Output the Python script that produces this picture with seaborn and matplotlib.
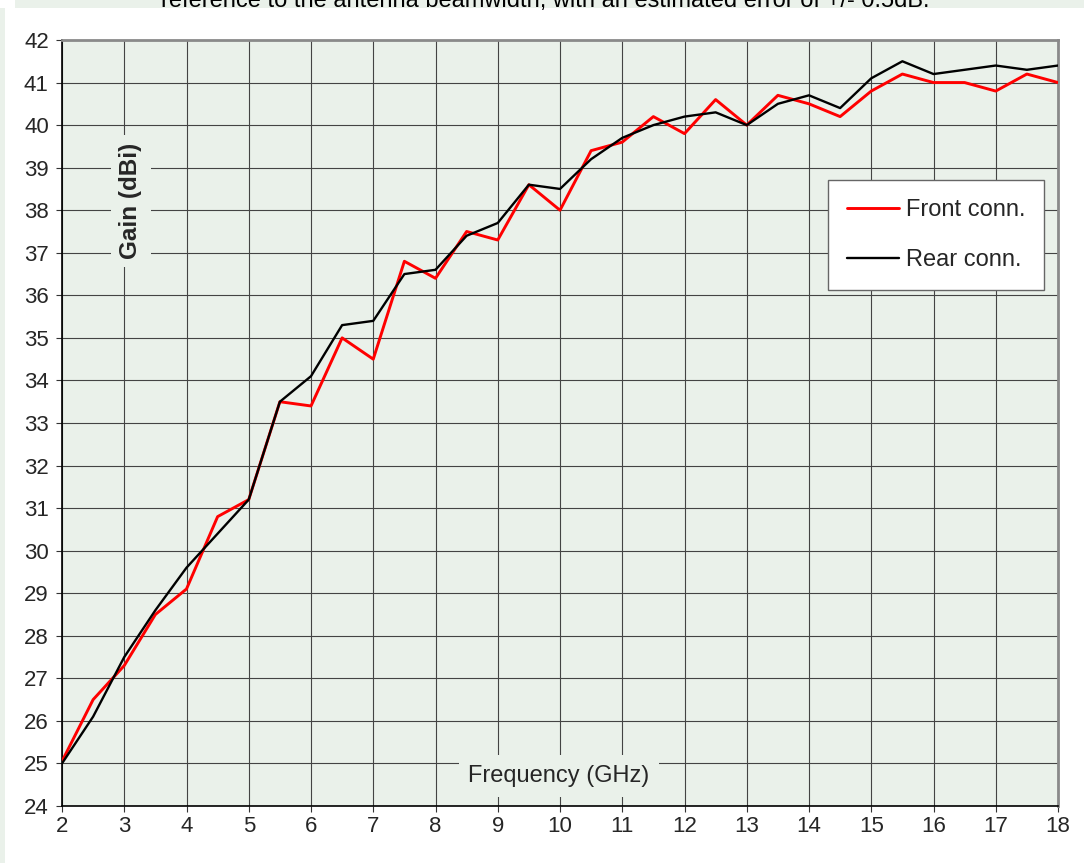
import numpy as np
import pandas as pd
import matplotlib
matplotlib.use("Agg")
import matplotlib.pyplot as plt
import seaborn as sns
from matplotlib.patches import Rectangle

freq = [2, 2.5, 3, 3.5, 4, 4.5, 5, 5.5, 6, 6.5, 7, 7.5, 8, 8.5, 9, 9.5, 10,
        10.5, 11, 11.5, 12, 12.5, 13, 13.5, 14, 14.5, 15, 15.5, 16, 16.5, 17, 17.5, 18]
front = [25.05, 26.5, 27.3, 28.5, 29.1, 30.8, 31.2, 33.5, 33.4, 35.0, 34.5, 36.8, 36.4,
         37.5, 37.3, 38.6, 38.0, 39.4, 39.6, 40.2, 39.8, 40.6, 40.0, 40.7, 40.5, 40.2,
         40.8, 41.2, 41.0, 41.0, 40.8, 41.2, 41.0]
rear = [25.0, 26.1, 27.5, 28.6, 29.6, 30.4, 31.2, 33.5, 34.1, 35.3, 35.4, 36.5, 36.6,
        37.4, 37.7, 38.6, 38.5, 39.2, 39.7, 40.0, 40.2, 40.3, 40.0, 40.5, 40.7, 40.4,
        41.1, 41.5, 41.2, 41.3, 41.4, 41.3, 41.4]
series_names = ["Front conn.", "Rear conn."]
xticks = list(range(2, 19))
yticks = list(range(24, 43))
title_text = "reference to the antenna beamwidth, with an estimated error of +/- 0.5dB."

df = pd.DataFrame({
    "Frequency": freq * 2,
    "Gain": front + rear,
    "Series": [series_names[0]] * len(freq) + [series_names[1]] * len(freq),
})

sns.set_theme(style="white")
plt.rcParams['font.family'] = ['Liberation Sans', 'DejaVu Sans']

W, H = 1084, 863
fig = plt.figure(figsize=(W / 100, H / 100), dpi=100, facecolor="white")
bg = "#EAF1EA"
# document decorations
fig.patches.append(Rectangle((15 / W, 1 - 8 / H), 1, 8 / H, transform=fig.transFigure,
                             facecolor="#EAF1EA", edgecolor="none", zorder=0))
fig.patches.append(Rectangle((0, 0), 5 / W, 1 - 8 / H, transform=fig.transFigure,
                             facecolor="#EAF1EA", edgecolor="none", zorder=0))
fig.text(545 / W, 1 - 7 / H, title_text, ha="center", va="baseline", fontsize=17, color="black")

ax = fig.add_axes([62 / W, 1 - 806 / H, (1058 - 62) / W, (806 - 40) / H])
ax.set_facecolor(bg)

sns.lineplot(data=df, x="Frequency", y="Gain", hue="Series",
             palette={series_names[0]: "#FF0000", series_names[1]: "#000000"},
             ax=ax, legend=False, zorder=3)
lines = ax.get_lines()
lines[0].set_linewidth(2.1)
lines[1].set_linewidth(1.7)

ax.set_xlim(2, 18)
ax.set_ylim(24, 42)
ax.set_xticks(xticks)
ax.set_yticks(yticks)
ax.grid(True, color="#444444", linewidth=0.8, zorder=1)
ax.set_axisbelow(True)
ax.tick_params(axis="both", which="major", direction="out", length=4.5, width=0.8,
               color="#333333", labelsize=16)
ax.tick_params(axis="y", pad=5)
ax.tick_params(axis="x", pad=3)
ax.tick_params(left=True, bottom=True)
for s in ["left", "bottom"]:
    ax.spines[s].set_color("black")
    ax.spines[s].set_linewidth(1.2)
for s in ["top", "right"]:
    ax.spines[s].set_color("#8a8a8a")
    ax.spines[s].set_linewidth(2.0)

ax.set_xlabel("")
ax.set_ylabel("")
ax.text(131 / W, 1 - 201 / H, "Gain (dBi)", transform=fig.transFigure, rotation=90,
        ha="center", va="center", fontsize=17.5, fontweight="bold", zorder=4,
        bbox=dict(facecolor=bg, edgecolor="none", pad=6))
ax.text(559 / W, 1 - 776 / H, "Frequency (GHz)", transform=fig.transFigure,
        ha="center", va="center", fontsize=17, zorder=4,
        bbox=dict(facecolor=bg, edgecolor="none", pad=7))

leg = ax.legend(handles=lines, labels=series_names, loc="upper left",
                bbox_to_anchor=((828 - 62) / (1058 - 62), 1 - (180 - 40) / (806 - 40)),
                frameon=True, fancybox=False, fontsize=17, handlelength=2.2,
                handletextpad=0.3, labelspacing=1.2, borderpad=0.8, borderaxespad=0)
leg.get_frame().set_edgecolor("#666666")
leg.get_frame().set_linewidth(1.0)
leg.get_frame().set_facecolor("white")
leg.get_frame().set_alpha(1)
leg.set_zorder(5)

fig.savefig("out.png", dpi=100, facecolor="white")
